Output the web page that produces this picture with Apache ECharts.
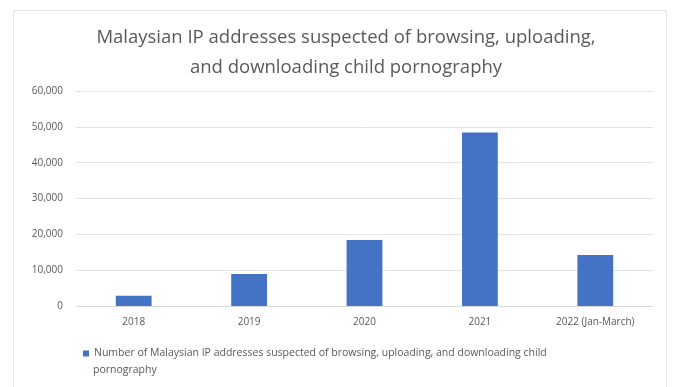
<!DOCTYPE html>
<html>
<head>
<meta charset="utf-8">
<script src="https://cdn.jsdelivr.net/npm/echarts@6/dist/echarts.min.js"></script>
<style>
  html, body { margin: 0; padding: 0; background: #ffffff; }
  #frame { position: absolute; left: 13px; top: 10px; width: 654px; height: 390px; border: 1px solid #e6e6e6; box-sizing: border-box; }
  #chart { position: absolute; left: 0; top: 0; width: 673px; height: 387px; }
</style>
</head>
<body>
<div id="frame"></div>
<div id="chart"></div>
<script>
// Categories and counts of suspected IP addresses
const years = ['2018', '2019', '2020', '2021', '2022 (Jan-March)'];
const ipCounts = [2850, 8950, 18400, 48400, 14250];
const seriesName = 'Number of Malaysian IP addresses suspected of browsing, uploading, and downloading child pornography';
const titleText = 'Malaysian IP addresses suspected of browsing, uploading,\nand downloading child pornography';

// The legend entry is wrapped after "child": the first line sits beside the marker,
// the remainder goes on a second line underneath.
const wrapAt = seriesName.lastIndexOf(' ');
const legendLine1 = seriesName.slice(0, wrapAt);
const legendLine2 = seriesName.slice(wrapAt + 1);

const FONT = '"Open Sans", "Noto Sans", sans-serif';
const chart = echarts.init(document.getElementById('chart'), null, { renderer: 'canvas' });

chart.setOption({
  animation: false,
  textStyle: { fontFamily: FONT },
  title: {
    text: titleText,
    left: 341,
    textAlign: 'center',
    top: 18,
    textStyle: { fontFamily: FONT, fontSize: 18.5, fontWeight: 'normal', color: '#595959', lineHeight: 30 }
  },
  grid: { left: 76, right: 20, top: 91, bottom: 81, containLabel: false },
  xAxis: {
    type: 'category',
    data: years,
    axisLine: { show: true, lineStyle: { color: '#d9d9d9' } },
    axisTick: { show: false },
    axisLabel: { color: '#595959', fontSize: 10, margin: 11, fontFamily: FONT }
  },
  yAxis: {
    type: 'value',
    min: 0,
    max: 60000,
    interval: 10000,
    axisLine: { show: false },
    axisTick: { show: false },
    splitLine: { lineStyle: { color: '#e3e3e3' } },
    axisLabel: {
      color: '#595959', fontSize: 10, margin: 13, fontFamily: FONT,
      formatter: v => v.toLocaleString('en-US')
    }
  },
  legend: {
    left: 83,
    top: 348,
    padding: 0,
    itemWidth: 6,
    itemHeight: 6,
    itemGap: 4,
    icon: 'rect',
    formatter: () => legendLine1,
    textStyle: { color: '#595959', fontSize: 10.5, fontFamily: FONT },
    data: [seriesName]
  },
  graphic: [{
    type: 'text',
    left: 93,
    top: 365,
    style: { text: legendLine2, fill: '#595959', fontSize: 10.5, fontFamily: FONT }
  }],
  series: [{
    name: seriesName,
    type: 'bar',
    data: ipCounts,
    barWidth: '31%',
    itemStyle: { color: '#4472C4' }
  }]
});
</script>
</body>
</html>
